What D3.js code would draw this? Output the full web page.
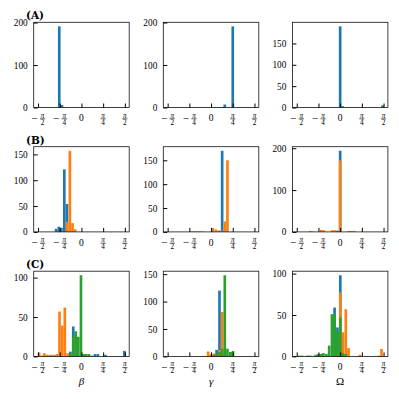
<!DOCTYPE html>
<html>
<head>
<meta charset="utf-8">
<script src="https://cdn.jsdelivr.net/npm/d3@7"></script>
<style>
  body { margin: 0; background: #fff; }
  text { font-family: "Liberation Serif", "DejaVu Serif", serif; fill: #000; }
</style>
</head>
<body>
<svg id="chart"></svg>
<script>
// histogram bars as [bin centre in degrees, count]; x axis runs -90..90 degrees (= -pi/2..pi/2)
const A_beta_b  = [[-46, 191], [-40.5, 6], [-35, 1]];
const A_gamma_b = [[17, 1], [23, 1], [28.5, 7], [45, 191]];
const A_omega_b = [[0, 190], [5.5, 3], [88, 5]];

const B_beta_b  = [[-52.5, 6], [-47, 10], [-41.5, 8], [-35.5, 121], [-30, 54]];
const B_beta_o  = [[-30, 19], [-24, 157], [-18.5, 17], [-13, 5]];
const B_gamma_b = [[17, 2], [23, 170]];
const B_gamma_o = [[-40, 1], [-34.5, 1], [-29, 1], [-23.5, 1], [-18, 1], [4, 8], [10, 5], [16, 3], [23, 3], [28.5, 22], [34, 150]];
const B_omega_b = [[-5.5, 3], [0, 194]];
const B_omega_o = [[-62, 2], [-56.5, 1], [-39, 5], [-34, 4], [-17, 4], [-11.5, 4], [0, 171], [18, 2], [23.5, 2], [29, 2]];

const C_beta_b  = [[-23, 6], [-17, 38], [28, 3], [34, 3], [50, 2], [89, 7]];
const C_beta_o  = [[-88, 5], [-82.5, 1], [-77, 4], [-71.5, 2], [-66, 2], [-60.5, 2], [-55, 2], [-50.5, 3],
                   [-45.5, 57], [-40, 39], [-34.5, 62], [-28.5, 4], [-23, 2]];
const C_beta_g  = [[-23, 4], [-17, 25], [-12, 32], [-6.5, 25], [-1, 103], [4.5, 3], [10, 3], [15.5, 3], [21, 1]];
const C_gamma_b = [[6, 4], [11.5, 12], [17.5, 120], [23, 5], [40, 8]];
const C_gamma_o = [[-17, 1], [-11.5, 1], [-6, 9], [0, 4], [6, 5], [11.5, 4], [17.5, 12], [23, 81], [28.5, 3], [40, 4]];
const C_gamma_g = [[0, 2], [6, 3], [11.5, 5], [17.5, 8], [23, 14], [28.5, 148], [34, 14], [40, 8], [45.5, 10]];
const C_omega_b = [[-11.5, 59], [-5.6, 35], [0.3, 98]];
const C_omega_o = [[-5.6, 3], [0.3, 77], [5.8, 29], [11.7, 57], [17.5, 10], [41, 2], [80, 1], [85.7, 9]];
const C_omega_g = [[-85, 1], [-79, 1], [-68, 1], [-62, 1], [-51, 2], [-45.5, 3], [-40, 3], [-34.8, 4], [-28.6, 3],
                   [-22.8, 13], [-17, 51], [-11.4, 51], [-5.6, 30], [0.3, 47], [5.8, 4], [11.7, 3]];

const yTicks = [
  [[0, 100, 200], [0, 100, 200], [0, 50, 100, 150]],
  [[0, 50, 100, 150], [0, 50, 100, 150], [0, 100, 200]],
  [[0, 50, 100], [0, 50, 100, 150], [0, 50, 100]]
];
const xTicks = [-90, -45, 0, 45, 90];
const rowLabels = ['(A)', '(B)', '(C)'];
const colLabels = ['β', 'γ', 'Ω'];
const colors = ['#1f77b4', '#ff7f0e', '#2ca02c'];
const binWidth = 5.5;

const panels = [
  [[A_beta_b], [A_gamma_b], [A_omega_b]],
  [[B_beta_b, B_beta_o], [B_gamma_b, B_gamma_o], [B_omega_b, B_omega_o]],
  [[C_beta_b, C_beta_o, C_beta_g], [C_gamma_b, C_gamma_o, C_gamma_g], [C_omega_b, C_omega_o, C_omega_g]]
];

const colLeft = [33.7, 163.3, 292.4];
const rowTop = [22.3, 146.7, 271.2];
const W = 95.5, H = 85.2;

const svg = d3.select('#chart').attr('width', 399).attr('height', 399);

panels.forEach((row, r) => {
  row.forEach((series, c) => {
    const x0 = colLeft[c], y0 = rowTop[r];
    const x = d3.scaleLinear().domain([-99, 99]).range([x0, x0 + W]);
    const ymax = d3.max(series, s => d3.max(s, d => d[1])) * 1.05;
    const y = d3.scaleLinear().domain([0, ymax]).range([y0 + H, y0]);
    const g = svg.append('g');

    series.forEach((s, i) => {
      g.append('g').selectAll('rect')
        .data(s)
        .enter()
        .append('rect')
        .attr('x', d => x(d[0] - binWidth / 2))
        .attr('width', d => x(d[0] + binWidth / 2) - x(d[0] - binWidth / 2))
        .attr('y', d => y(d[1]))
        .attr('height', d => y(0) - y(d[1]))
        .attr('fill', colors[i]);
    });

    g.append('rect')
      .attr('x', x0).attr('y', y0).attr('width', W).attr('height', H)
      .attr('fill', 'none').attr('stroke', '#111').attr('stroke-width', 0.8);

    // y axis, inward ticks
    const ya = g.append('g')
      .attr('transform', 'translate(' + x0 + ',0)')
      .call(d3.axisLeft(y).tickValues(yTicks[r][c]).tickSizeInner(-4).tickSizeOuter(0).tickPadding(6));
    ya.select('.domain').remove();
    ya.selectAll('line').attr('stroke-width', 1);
    ya.attr('font-family', null).attr('font-size', null);
    ya.selectAll('text').style('font-size', '9.3px').attr('dy', '0.33em');

    // x axis, inward ticks, labels drawn as fractions of pi
    const xa = g.append('g')
      .attr('transform', 'translate(0,' + (y0 + H) + ')')
      .call(d3.axisBottom(x).tickValues(xTicks).tickSizeInner(-4).tickSizeOuter(0).tickFormat(''));
    xa.select('.domain').remove();
    xa.selectAll('line').attr('stroke-width', 1);

    xTicks.forEach(t => {
      const lg = g.append('g').attr('transform', 'translate(' + x(t) + ',' + (y0 + H) + ')');
      if (t === 0) {
        lg.append('text').attr('text-anchor', 'middle').attr('y', 13.8)
          .style('font-size', '9.5px').text('0');
        return;
      }
      const fx = t < 0 ? 4.6 : 0;
      if (t < 0) {
        lg.append('text').attr('text-anchor', 'middle').attr('x', -3.6).attr('y', 14.2)
          .style('font-size', '11px').text('−');
      }
      lg.append('text').attr('text-anchor', 'middle').attr('x', fx).attr('y', 10)
        .style('font-size', '7.2px').style('font-style', 'italic').text('π');
      lg.append('line').attr('x1', fx - 2.6).attr('x2', fx + 2.6).attr('y1', 11.3).attr('y2', 11.3)
        .attr('stroke', '#000').attr('stroke-width', 0.6);
      lg.append('text').attr('text-anchor', 'middle').attr('x', fx).attr('y', 17)
        .style('font-size', '7.2px').text(Math.abs(t) === 90 ? '2' : '4');
    });

    if (c === 0) {
      svg.append('text').attr('x', 26).attr('y', y0 - 3.2)
        .style('font-family', '"DejaVu Serif", serif').style('font-weight', 'bold').style('font-size', '10.5px')
        .text(rowLabels[r]);
    }
    if (r === 2) {
      svg.append('text').attr('x', x0 + W / 2).attr('y', 384.5).attr('text-anchor', 'middle')
        .style('font-size', '11px').style('font-style', c === 2 ? 'normal' : 'italic')
        .text(colLabels[c]);
    }
  });
});
</script>
</body>
</html>
